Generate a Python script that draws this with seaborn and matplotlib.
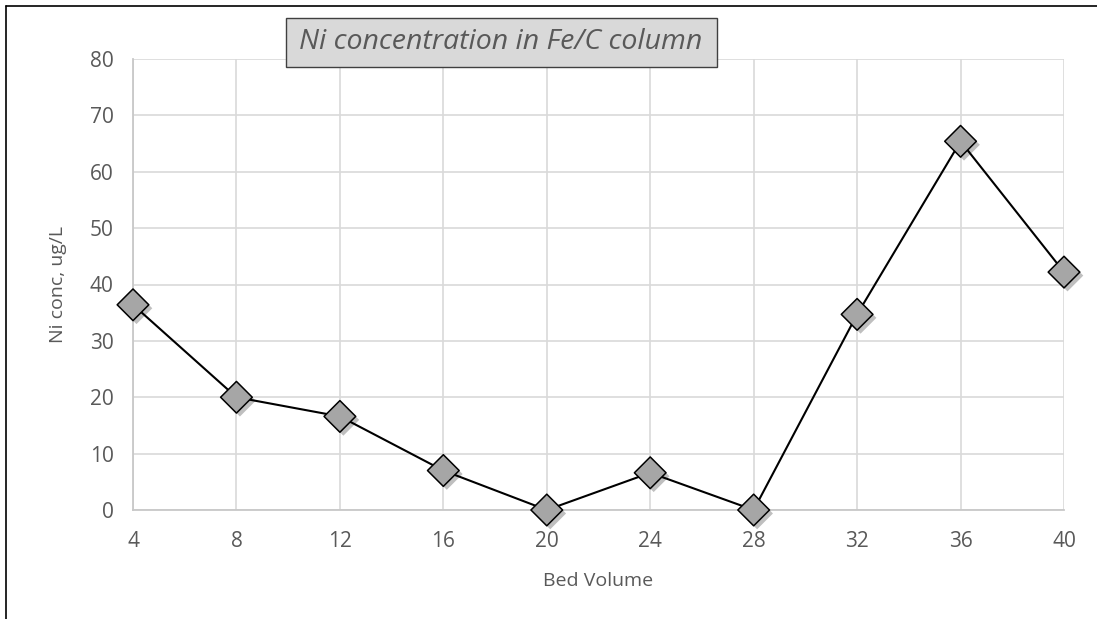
import matplotlib
matplotlib.use("Agg")
import matplotlib.pyplot as plt
import matplotlib.patheffects as pe
from matplotlib.lines import Line2D
from matplotlib.patches import Rectangle
import seaborn as sns
import pandas as pd

bed_volume = [4, 8, 12, 16, 20, 24, 28, 32, 36, 40]
ni_conc = [36.4, 20.0, 16.6, 7.0, 0.0, 6.6, 0.0, 34.7, 65.4, 42.2]
y_ticks = [0, 10, 20, 30, 40, 50, 60, 70, 80]
title_text = "Ni concentration in Fe/C column"
x_label = "Bed Volume"
y_label = "Ni conc, ug/L"

df = pd.DataFrame({"bv": bed_volume, "ni": ni_conc})

sns.set_theme(style="white")
plt.rcParams['font.family'] = ['Open Sans', 'DejaVu Sans']

fig = plt.figure(figsize=(10.97, 6.19), dpi=100)
W, H = 1097, 619
left, right, top, bottom = 133, 1064, 59, 510
ax = fig.add_axes([left / W, 1 - bottom / H, (right - left) / W, (bottom - top) / H])

sns.lineplot(data=df, x="bv", y="ni", ax=ax, color="black", linewidth=1.5, zorder=3)
sns.scatterplot(data=df, x="bv", y="ni", ax=ax, marker="D", s=260,
                color="#a6a6a6", edgecolor="black", linewidth=1.1, zorder=4)
for coll in ax.collections:
    coll.set_clip_on(False)
    coll.set_path_effects([pe.SimplePatchShadow(offset=(2.5, -2.5), alpha=0.25, shadow_rgbFace="#000000"),
                           pe.Normal()])
for ln in ax.lines:
    ln.set_clip_on(False)

ax.set_xlim(4, 40)
ax.set_ylim(0, 80)
ax.set_xticks(bed_volume)
ax.set_yticks(y_ticks)
ax.grid(True, color="#d9d9d9", linewidth=1.2)
ax.set_axisbelow(True)
for s in ["top", "right"]:
    ax.spines[s].set_visible(False)
for s in ["left", "bottom"]:
    ax.spines[s].set_color("#c8c8c8")
    ax.spines[s].set_linewidth(1.3)
ax.tick_params(axis="both", length=0, labelsize=15, colors="#595959")
ax.tick_params(axis="x", pad=15)
ax.tick_params(axis="y", pad=14)

ax.set_xlabel(x_label, fontsize=14, color="#595959", va="top")
ax.xaxis.set_label_coords(0.5, (510 - 572) / 451)
ax.set_ylabel(y_label, fontsize=14, color="#595959")
ax.yaxis.set_label_coords((67 - 133) / 931, 0.5)

# title box
fig.add_artist(Rectangle((286 / W, 1 - 67 / H), (717 - 286) / W, (67 - 18) / H,
                         transform=fig.transFigure, facecolor="#d9d9d9", edgecolor="#404040",
                         linewidth=1.0, zorder=5))
fig.text(501 / W, 1 - 42 / H, title_text, fontsize=20.5, style="italic", color="#595959",
         ha="center", va="center", zorder=6)

# outer frame (left and top edges)
fig.add_artist(Line2D([6 / W, 6 / W], [0, 1 - 6 / H], transform=fig.transFigure, color="black", linewidth=1.2))
fig.add_artist(Line2D([6 / W, 1], [1 - 6 / H, 1 - 6 / H], transform=fig.transFigure, color="black", linewidth=1.2))

fig.savefig("out.png", dpi=100)
